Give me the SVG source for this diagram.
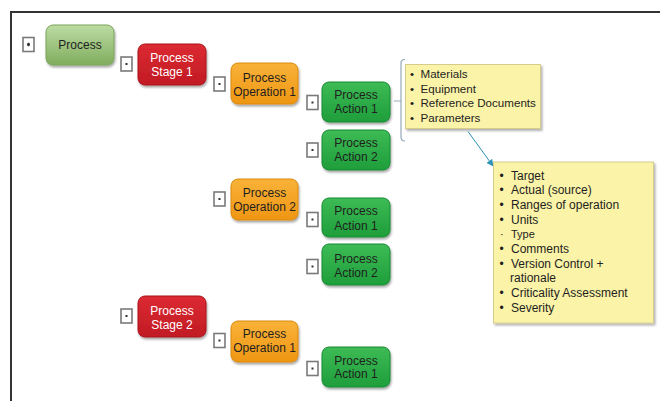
<svg xmlns="http://www.w3.org/2000/svg" width="660" height="401" viewBox="0 0 660 401">
<defs>
<linearGradient id="gProc" x1="0" y1="0" x2="0" y2="1"><stop offset="0" stop-color="#bcdca3"/><stop offset="1" stop-color="#80ad5e"/></linearGradient>
<linearGradient id="gRed" x1="0" y1="0" x2="0" y2="1"><stop offset="0" stop-color="#dc2a32"/><stop offset="1" stop-color="#c11b24"/></linearGradient>
<linearGradient id="gOrg" x1="0" y1="0" x2="0" y2="1"><stop offset="0" stop-color="#f9b238"/><stop offset="1" stop-color="#ef9614"/></linearGradient>
<linearGradient id="gGrn" x1="0" y1="0" x2="0" y2="1"><stop offset="0" stop-color="#3dbb55"/><stop offset="1" stop-color="#1e9e3b"/></linearGradient>
<filter id="sh" x="-20%" y="-20%" width="140%" height="150%"><feDropShadow dx="1" dy="2" stdDeviation="1.2" flood-color="#000" flood-opacity="0.35"/></filter>
<filter id="shy" x="-10%" y="-10%" width="120%" height="130%"><feDropShadow dx="1.5" dy="2" stdDeviation="1.2" flood-color="#000" flood-opacity="0.3"/></filter>
<marker id="arr" viewBox="0 0 10 10" refX="9" refY="5" markerWidth="7" markerHeight="7" orient="auto" markerUnits="userSpaceOnUse"><path d="M0,0 L10,5 L0,10 z" fill="#2f93b8"/></marker>
</defs>
<style>
text{font-family:"Liberation Sans",Arial,sans-serif;}
.nt{font-size:12px;text-anchor:middle;fill:#1e1e1e;}
.wt{font-size:12px;text-anchor:middle;fill:#ffffff;}
.proc{fill:url(#gProc);stroke:#7aa45a;stroke-width:1;filter:url(#sh);}
.red{fill:url(#gRed);stroke:#a8141c;stroke-width:1;filter:url(#sh);}
.org{fill:url(#gOrg);stroke:#d98a0e;stroke-width:1;filter:url(#sh);}
.grn{fill:url(#gGrn);stroke:#1a8a33;stroke-width:1;filter:url(#sh);}
.tg{fill:#ffffff;stroke:#7a7a7a;stroke-width:1.6;}
.td{fill:#333333;}
.yb{fill:#faf3a8;stroke:#d6cc8c;stroke-width:1;filter:url(#shy);}
.b1{font-size:11.6px;fill:#1e1e1e;}
.b2{font-size:12px;fill:#1e1e1e;}
.frame{stroke:#333333;stroke-width:2;fill:none;}
.conn{fill:none;stroke:#94aab8;stroke-width:1.2;}
</style>

<path class="frame" d="M10,12 H660 M11,12 V401"/>

<g id="toggles">
<rect class="tg" x="23" y="37.5" width="11" height="14"/><rect class="td" x="27" y="43.5" width="3" height="2"/><rect class="td" x="27.75" y="42.75" width="1.5" height="3.5"/>
<rect class="tg" x="121" y="57" width="11" height="14"/><rect class="td" x="125.5" y="63" width="2" height="2"/>
<rect class="tg" x="214" y="77" width="11" height="14"/><rect class="td" x="218.5" y="83" width="2" height="2"/>
<rect class="tg" x="307" y="95.5" width="11" height="14"/><rect class="td" x="311.5" y="101.5" width="2" height="2"/>
<rect class="tg" x="307" y="143" width="11" height="14"/><rect class="td" x="311.5" y="149" width="2" height="2"/>
<rect class="tg" x="214" y="192" width="11" height="14"/><rect class="td" x="218.5" y="198" width="2" height="2"/>
<rect class="tg" x="307" y="212.5" width="11" height="14"/><rect class="td" x="311.5" y="218.5" width="2" height="2"/>
<rect class="tg" x="307" y="259.5" width="11" height="14"/><rect class="td" x="311.5" y="265.5" width="2" height="2"/>
<rect class="tg" x="121" y="309" width="11" height="14"/><rect class="td" x="125.5" y="315" width="2" height="2"/>
<rect class="tg" x="214" y="333.5" width="11" height="14"/><rect class="td" x="218.5" y="339.5" width="2" height="2"/>
<rect class="tg" x="307" y="361.5" width="11" height="14"/><rect class="td" x="311.5" y="367.5" width="2" height="2"/>
</g>

<g id="connectors">
<path class="conn" d="M405,59.5 Q401,59.5 401,63 V137 Q401,141 405,141 M401,101 H394"/>
<line x1="468" y1="131.5" x2="493" y2="166" stroke="#2f93b8" stroke-width="1" marker-end="url(#arr)"/>
</g>

<g id="n-process"><rect class="proc" x="46" y="25" width="68" height="40" rx="7"/><text class="nt" x="80" y="49">Process</text></g>

<g id="n-stage1"><rect class="red" x="138" y="44" width="68" height="41" rx="7"/><text class="wt" x="172" y="62">Process</text><text class="wt" x="172" y="75.5">Stage 1</text></g>

<g id="n-op1"><rect class="org" x="231" y="63" width="67" height="41" rx="7"/><text class="nt" x="264.5" y="82">Process</text><text class="nt" x="264.5" y="95.5">Operation 1</text></g>

<g id="n-act1"><rect class="grn" x="322" y="82" width="68" height="40" rx="7"/><text class="nt" x="356" y="99">Process</text><text class="nt" x="356" y="113">Action 1</text></g>

<g id="n-act2"><rect class="grn" x="322" y="130" width="68" height="40" rx="7"/><text class="nt" x="356" y="147">Process</text><text class="nt" x="356" y="161">Action 2</text></g>

<g id="n-op2"><rect class="org" x="231" y="179" width="67" height="41" rx="7"/><text class="nt" x="264.5" y="197">Process</text><text class="nt" x="264.5" y="210.5">Operation 2</text></g>

<g id="n-act1b"><rect class="grn" x="322" y="198" width="68" height="39" rx="7"/><text class="nt" x="356" y="215">Process</text><text class="nt" x="356" y="229.5">Action 1</text></g>

<g id="n-act2b"><rect class="grn" x="322" y="244" width="68" height="41" rx="7"/><text class="nt" x="356" y="263">Process</text><text class="nt" x="356" y="277">Action 2</text></g>

<g id="n-stage2"><rect class="red" x="138" y="296" width="68" height="41" rx="7"/><text class="wt" x="172" y="315">Process</text><text class="wt" x="172" y="328.5">Stage 2</text></g>

<g id="n-op1b"><rect class="org" x="231" y="321" width="67" height="41" rx="7"/><text class="nt" x="264.5" y="338">Process</text><text class="nt" x="264.5" y="352">Operation 1</text></g>

<g id="n-act1c"><rect class="grn" x="322" y="347" width="68" height="40" rx="7"/><text class="nt" x="356" y="365">Process</text><text class="nt" x="356" y="378">Action 1</text></g>

<g id="n-list1">
<rect class="yb" x="405.5" y="64.5" width="135" height="64"/>
<text class="b1" x="410" y="78">•</text><text class="b1" x="420.5" y="78">Materials</text>
<text class="b1" x="410" y="92.5">•</text><text class="b1" x="420.5" y="92.5">Equipment</text>
<text class="b1" x="410" y="107">•</text><text class="b1" x="420.5" y="107">Reference Documents</text>
<text class="b1" x="410" y="121.5">•</text><text class="b1" x="420.5" y="121.5">Parameters</text>
</g>

<g id="n-list2">
<rect class="yb" x="493.5" y="162" width="160" height="161"/>
<text class="b2" x="499.5" y="179.5">•</text><text class="b2" x="511" y="179.5">Target</text>
<text class="b2" x="499.5" y="194.2">•</text><text class="b2" x="511" y="194.2">Actual (source)</text>
<text class="b2" x="499.5" y="208.9">•</text><text class="b2" x="511" y="208.9">Ranges of operation</text>
<text class="b2" x="499.5" y="223.6">•</text><text class="b2" x="511" y="223.6">Units</text>
<text class="b2" x="500" y="237.5" style="font-size:11px">·</text><text class="b2" x="511" y="237.5" style="font-size:11px">Type</text>
<text class="b2" x="499.5" y="253">•</text><text class="b2" x="511" y="253">Comments</text>
<text class="b2" x="499.5" y="267.7">•</text><text class="b2" x="511" y="267.7">Version Control +</text>
<text class="b2" x="510" y="282.4">rationale</text>
<text class="b2" x="499.5" y="297.1">•</text><text class="b2" x="511" y="297.1">Criticality Assessment</text>
<text class="b2" x="499.5" y="311.8">•</text><text class="b2" x="511" y="311.8">Severity</text>
</g>
</svg>
